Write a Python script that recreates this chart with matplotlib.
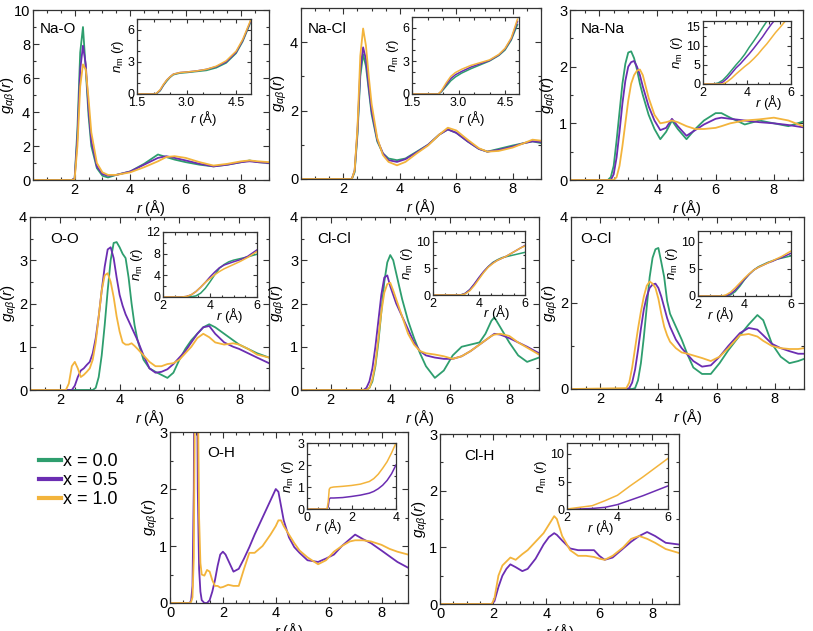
import matplotlib
matplotlib.use("Agg")
import matplotlib.pyplot as plt
from matplotlib.ticker import MultipleLocator
from matplotlib.lines import Line2D

plt.rcParams['font.family'] = ['Liberation Sans', 'DejaVu Sans']
plt.rcParams['mathtext.fontset'] = 'custom'
plt.rcParams['mathtext.rm'] = 'Liberation Sans'
plt.rcParams['mathtext.it'] = 'Liberation Sans:italic'
plt.rcParams['mathtext.bf'] = 'Liberation Sans:bold'

GREEN = '#2e9e6e'
PURPLE = '#6b2db2'
ORANGE = '#f3b43c'
series_labels = ['x = 0.0', 'x = 0.5', 'x = 1.0']

# ---------------- Na-O ----------------
naO_r = [0.5, 1.9, 2.0, 2.1, 2.2, 2.3, 2.4, 2.5, 2.6, 2.8, 3.0, 3.2, 3.5, 4.0, 4.5, 5.0, 5.3, 5.6, 6.0, 6.5, 7.0, 7.5, 8.0, 8.3, 8.6, 9.0]
naO_g0 = [0, 0, 0.1, 3.0, 7.5, 9.0, 6.5, 3.8, 2.0, 0.7, 0.25, 0.15, 0.3, 0.5, 0.95, 1.5, 1.35, 1.2, 1.05, 0.9, 0.8, 0.9, 1.05, 1.15, 1.05, 1.0]
naO_g5 = [0, 0, 0.1, 2.5, 6.5, 7.9, 6.8, 4.2, 2.3, 0.8, 0.35, 0.25, 0.3, 0.5, 0.9, 1.3, 1.4, 1.3, 1.15, 0.95, 0.8, 0.9, 1.05, 1.1, 1.05, 1.0]
naO_g10 = [0, 0, 0.05, 2.0, 5.5, 6.8, 6.5, 4.8, 2.8, 1.0, 0.45, 0.3, 0.3, 0.45, 0.75, 1.1, 1.35, 1.4, 1.3, 1.05, 0.85, 0.95, 1.1, 1.15, 1.1, 1.05]
naO_in_r = [1.5, 2.05, 2.1, 2.2, 2.3, 2.4, 2.5, 2.6, 2.8, 3.0, 3.3, 3.6, 3.9, 4.2, 4.5, 4.7, 4.9, 5.0]
naO_n0 = [0, 0, 0.05, 0.3, 0.8, 1.2, 1.55, 1.8, 1.95, 2.0, 2.1, 2.2, 2.45, 2.9, 3.8, 4.9, 6.4, 7.2]
naO_n5 = [0, 0, 0.08, 0.35, 0.85, 1.3, 1.6, 1.85, 2.0, 2.05, 2.15, 2.3, 2.55, 3.0, 3.9, 5.0, 6.5, 7.3]
naO_n10 = [0, 0, 0.1, 0.4, 0.9, 1.3, 1.6, 1.85, 2.0, 2.05, 2.15, 2.3, 2.6, 3.1, 4.0, 5.1, 6.6, 7.4]

# ---------------- Na-Cl ----------------
naCl_r = [0.5, 2.3, 2.4, 2.5, 2.6, 2.7, 2.8, 2.9, 3.0, 3.2, 3.4, 3.6, 3.9, 4.2, 4.6, 5.0, 5.4, 5.7, 6.0, 6.4, 6.8, 7.1, 7.5, 8.0, 8.4, 8.7, 9.0]
naCl_g0 = [0, 0, 0.2, 1.3, 3.0, 3.65, 3.3, 2.6, 1.9, 1.1, 0.75, 0.6, 0.55, 0.6, 0.8, 1.0, 1.3, 1.45, 1.35, 1.1, 0.88, 0.8, 0.88, 0.98, 1.05, 1.1, 1.05]
naCl_g5 = [0, 0, 0.25, 1.4, 3.2, 3.85, 3.5, 2.7, 2.0, 1.15, 0.75, 0.55, 0.5, 0.58, 0.78, 1.0, 1.3, 1.45, 1.35, 1.1, 0.88, 0.8, 0.85, 0.95, 1.05, 1.1, 1.08]
naCl_g10 = [0, 0, 0.25, 1.5, 3.6, 4.4, 3.9, 3.0, 2.2, 1.2, 0.7, 0.5, 0.4, 0.5, 0.75, 0.98, 1.3, 1.5, 1.42, 1.15, 0.9, 0.8, 0.82, 0.92, 1.05, 1.15, 1.12]
naCl_in_r = [1.5, 2.35, 2.45, 2.6, 2.75, 2.9, 3.1, 3.4, 3.7, 4.0, 4.3, 4.5, 4.7, 4.9]
naCl_n0 = [0, 0, 0.2, 0.7, 1.2, 1.55, 1.9, 2.3, 2.65, 3.0, 3.5, 4.0, 4.9, 6.3]
naCl_n5 = [0, 0, 0.25, 0.85, 1.4, 1.75, 2.05, 2.45, 2.75, 3.05, 3.55, 4.1, 5.0, 6.6]
naCl_n10 = [0, 0, 0.3, 1.0, 1.6, 1.95, 2.25, 2.6, 2.85, 3.1, 3.6, 4.15, 5.1, 6.8]

# ---------------- Na-Na ----------------
naNa_r = [1.0, 2.3, 2.4, 2.5, 2.6, 2.7, 2.8, 2.9, 3.0, 3.1, 3.2, 3.3, 3.4, 3.5, 3.7, 3.9, 4.1, 4.3, 4.5, 4.7, 5.0, 5.3, 5.6, 6.0, 6.2, 6.5, 7.0, 7.5, 8.0, 8.5, 9.0]
naNa_g0 = [0, 0, 0.05, 0.25, 0.7, 1.2, 1.7, 2.05, 2.25, 2.27, 2.15, 1.95, 1.7, 1.5, 1.15, 0.9, 0.72, 0.85, 1.05, 0.9, 0.72, 0.9, 1.05, 1.18, 1.18, 1.1, 0.98, 1.05, 1.0, 0.95, 1.03]
naNa_g5 = [0, 0, 0.0, 0.1, 0.4, 0.85, 1.35, 1.75, 2.0, 2.08, 2.1, 2.0, 1.85, 1.65, 1.3, 1.05, 0.88, 0.92, 1.08, 0.95, 0.78, 0.88, 0.98, 1.08, 1.1, 1.08, 1.05, 1.02, 1.0, 0.97, 0.93]
naNa_g10 = [0, 0, 0, 0, 0.05, 0.25, 0.6, 1.0, 1.4, 1.7, 1.85, 1.93, 1.95, 1.85, 1.45, 1.15, 1.0, 1.02, 1.05, 1.02, 0.95, 0.9, 0.9, 0.92, 0.95, 1.0, 1.05, 1.07, 1.1, 1.05, 0.95]
naNa_in_r = [2.0, 2.5, 2.7, 2.9, 3.1, 3.3, 3.5, 3.7, 3.9, 4.1, 4.3, 4.5, 4.7, 4.9, 5.1, 5.3, 5.5, 5.7, 5.9, 6.0]
naNa_n0 = [0, 0, 0.3, 1.0, 2.2, 3.6, 5.0, 6.3, 7.8, 9.6, 11.2, 12.9, 14.7, 16.4, 18.0, 19.5, 21.0, 22.5, 24.0, 24.7]
naNa_n5 = [0, 0, 0.05, 0.5, 1.5, 2.8, 4.2, 5.3, 6.6, 7.9, 9.3, 10.8, 12.3, 14.0, 15.6, 17.0, 18.5, 20.0, 21.5, 22.0]
naNa_n10 = [0, 0, 0, 0, 0.6, 1.5, 2.6, 3.6, 4.6, 5.5, 6.6, 7.8, 9.2, 10.5, 12.0, 13.5, 14.8, 16.2, 17.6, 18.3]

# ---------------- O-O ----------------
oo_r = [1.0, 2.2, 2.3, 2.4, 2.5, 2.6, 2.7, 2.8, 2.9, 3.0, 3.1, 3.2, 3.3, 3.4, 3.5, 3.6, 3.7, 3.8, 3.9, 4.0, 4.1, 4.2, 4.3, 4.4, 4.5, 4.6, 4.8, 5.0, 5.2, 5.4, 5.6, 5.8, 6.0, 6.2, 6.4, 6.6, 6.8, 7.0, 7.2, 7.5, 7.8, 8.0, 8.3, 8.6, 9.0]
oo_g0 = [0, 0, 0, 0, 0, 0, 0, 0, 0, 0, 0, 0.05, 0.3, 0.8, 1.5, 2.3, 3.0, 3.4, 3.42, 3.3, 3.15, 3.05, 2.6, 2.0, 1.5, 1.15, 0.7, 0.5, 0.42, 0.35, 0.28, 0.4, 0.7, 0.95, 1.15, 1.3, 1.45, 1.52, 1.45, 1.3, 1.15, 1.05, 0.95, 0.85, 0.75]
oo_g5 = [0, 0, 0, 0, 0.1, 0.3, 0.45, 0.5, 0.58, 0.65, 0.85, 1.2, 1.7, 2.3, 2.85, 3.25, 3.3, 3.05, 2.6, 2.2, 1.95, 1.75, 1.6, 1.45, 1.3, 1.15, 0.8, 0.5, 0.4, 0.42, 0.48, 0.6, 0.75, 0.9, 1.1, 1.3, 1.45, 1.48, 1.3, 1.1, 1.0, 0.95, 0.85, 0.75, 0.62]
oo_g10 = [0, 0, 0.15, 0.55, 0.65, 0.5, 0.3, 0.35, 0.42, 0.5, 0.7, 1.1, 1.7, 2.3, 2.65, 2.7, 2.5, 2.15, 1.7, 1.35, 1.1, 1.05, 1.05, 1.08, 1.02, 0.95, 0.8, 0.65, 0.55, 0.55, 0.6, 0.62, 0.7, 0.85, 1.0, 1.2, 1.3, 1.22, 1.1, 1.05, 1.08, 1.05, 0.95, 0.82, 0.75]
oo_in_r = [2.0, 2.8, 3.0, 3.2, 3.4, 3.6, 3.8, 4.0, 4.2, 4.4, 4.6, 4.8, 5.0, 5.3, 5.6, 6.0]
oo_n0 = [0, 0, 0, 0.05, 0.2, 0.7, 1.6, 2.8, 4.1, 5.3, 6.0, 6.5, 6.8, 7.1, 7.4, 7.9]
oo_n5 = [0, 0, 0.1, 0.4, 1.0, 1.8, 2.7, 3.7, 4.6, 5.4, 5.9, 6.2, 6.5, 6.9, 7.5, 8.7]
oo_n10 = [0, 0, 0.1, 0.4, 1.0, 1.8, 2.7, 3.4, 4.1, 4.7, 5.2, 5.6, 6.0, 6.6, 7.3, 8.4]

# ---------------- Cl-Cl ----------------
clcl_r = [1.0, 3.1, 3.2, 3.3, 3.4, 3.5, 3.6, 3.7, 3.8, 3.9, 4.0, 4.1, 4.2, 4.3, 4.4, 4.6, 4.8, 5.0, 5.2, 5.5, 5.8, 6.1, 6.4, 6.7, 7.0, 7.2, 7.4, 7.5, 7.7, 8.0, 8.3, 8.6, 9.0]
clcl_g0 = [0, 0, 0, 0.05, 0.2, 0.55, 1.1, 1.8, 2.5, 2.95, 3.12, 3.0, 2.7, 2.4, 2.1, 1.6, 1.2, 0.85, 0.55, 0.28, 0.45, 0.8, 1.0, 1.05, 1.1, 1.3, 1.6, 1.68, 1.45, 1.1, 0.8, 0.65, 0.75]
clcl_g5 = [0, 0, 0.05, 0.2, 0.5, 1.0, 1.6, 2.2, 2.6, 2.65, 2.4, 2.2, 2.0, 1.85, 1.7, 1.4, 1.1, 0.9, 0.8, 0.75, 0.72, 0.72, 0.78, 0.9, 1.05, 1.15, 1.25, 1.3, 1.28, 1.2, 1.1, 1.0, 0.85]
clcl_g10 = [0, 0, 0, 0.05, 0.25, 0.6, 1.2, 1.8, 2.25, 2.45, 2.48, 2.3, 2.1, 1.9, 1.7, 1.3, 1.05, 0.9, 0.85, 0.82, 0.78, 0.72, 0.78, 0.9, 1.05, 1.15, 1.25, 1.28, 1.3, 1.25, 1.1, 0.98, 0.82]
clcl_in_r = [2.0, 3.2, 3.4, 3.6, 3.8, 4.0, 4.2, 4.4, 4.6, 4.8, 5.0, 5.2, 5.4, 5.6, 5.8, 6.0]
clcl_n0 = [0, 0, 0.3, 1.0, 2.0, 3.2, 4.3, 5.3, 6.1, 6.6, 7.0, 7.2, 7.4, 7.6, 7.8, 8.0]
clcl_n5 = [0, 0, 0.3, 1.0, 2.1, 3.3, 4.4, 5.3, 6.0, 6.5, 6.9, 7.3, 7.8, 8.3, 8.8, 9.3]
clcl_n10 = [0, 0, 0.2, 0.8, 1.8, 3.0, 4.2, 5.2, 5.9, 6.5, 6.9, 7.3, 7.8, 8.3, 8.8, 9.2]

# ---------------- O-Cl ----------------
ocl_r = [1.0, 2.9, 3.0, 3.1, 3.2, 3.3, 3.4, 3.5, 3.6, 3.7, 3.8, 3.9, 4.0, 4.1, 4.2, 4.3, 4.4, 4.6, 4.8, 5.0, 5.2, 5.5, 5.8, 6.1, 6.4, 6.8, 7.1, 7.4, 7.6, 7.9, 8.2, 8.5, 8.8, 9.0]
ocl_g0 = [0, 0, 0, 0, 0.02, 0.2, 0.6, 1.2, 1.9, 2.6, 3.05, 3.25, 3.28, 2.95, 2.6, 2.05, 1.75, 1.45, 1.15, 0.8, 0.5, 0.35, 0.35, 0.6, 0.9, 1.25, 1.5, 1.72, 1.6, 1.05, 0.75, 0.6, 0.65, 0.7]
ocl_g5 = [0, 0, 0.02, 0.15, 0.45, 0.9, 1.4, 1.85, 2.15, 2.35, 2.43, 2.45, 2.35, 2.15, 1.9, 1.65, 1.45, 1.15, 0.95, 0.8, 0.65, 0.52, 0.55, 0.75, 1.0, 1.3, 1.42, 1.38, 1.25, 1.05, 0.95, 0.88, 0.82, 0.82]
ocl_g10 = [0, 0.02, 0.15, 0.5, 0.95, 1.4, 1.8, 2.15, 2.4, 2.5, 2.45, 2.35, 2.1, 1.75, 1.45, 1.25, 1.1, 0.95, 0.85, 0.82, 0.78, 0.72, 0.65, 0.75, 0.95, 1.25, 1.28, 1.22, 1.12, 1.0, 0.95, 0.93, 0.93, 0.95]
ocl_in_r = [2.0, 3.0, 3.2, 3.4, 3.6, 3.8, 4.0, 4.2, 4.4, 4.6, 4.8, 5.0, 5.2, 5.4, 5.6, 5.8, 6.0]
ocl_n0 = [0, 0, 0, 0.2, 0.8, 1.8, 3.0, 4.0, 4.8, 5.4, 5.8, 6.2, 6.5, 6.8, 7.0, 7.2, 7.4]
ocl_n5 = [0, 0, 0.05, 0.4, 1.1, 2.1, 3.1, 4.0, 4.8, 5.3, 5.7, 6.1, 6.4, 6.8, 7.1, 7.5, 7.9]
ocl_n10 = [0, 0, 0.2, 0.7, 1.5, 2.4, 3.3, 4.1, 4.8, 5.3, 5.7, 6.1, 6.5, 6.9, 7.3, 7.8, 8.3]

# ---------------- O-H (no x = 0.0) ----------------
oh_r = [0, 0.75, 0.8, 0.85, 0.9, 0.95, 1.0, 1.05, 1.1, 1.15, 1.2, 1.3, 1.4, 1.5, 1.6, 1.7, 1.8, 1.9, 2.0, 2.1, 2.2, 2.4, 2.6, 2.8, 3.0, 3.2, 3.5, 3.8, 4.0, 4.1, 4.2, 4.3, 4.5, 4.7, 4.9, 5.2, 5.6, 5.9, 6.2, 6.5, 6.8, 7.0, 7.3, 7.6, 8.0, 8.3, 8.6, 9.0]
oh_g5 = [0, 0, 0.05, 0.3, 2.0, 8.0, 6.0, 2.0, 0.6, 0.2, 0.05, 0.0, 0.0, 0.05, 0.2, 0.4, 0.65, 0.85, 0.9, 0.85, 0.75, 0.55, 0.6, 0.78, 0.98, 1.2, 1.5, 1.8, 2.0, 1.95, 1.7, 1.45, 1.15, 0.98, 0.88, 0.75, 0.72, 0.78, 0.85, 1.0, 1.12, 1.2, 1.12, 1.05, 0.92, 0.82, 0.72, 0.62]
oh_g10 = [0, 0, 0.02, 0.1, 0.8, 4.0, 8.0, 4.0, 1.5, 0.7, 0.5, 0.48, 0.58, 0.55, 0.4, 0.3, 0.3, 0.27, 0.28, 0.3, 0.32, 0.3, 0.3, 0.6, 0.88, 0.88, 1.0, 1.2, 1.35, 1.45, 1.45, 1.35, 1.2, 1.05, 0.92, 0.8, 0.68, 0.75, 0.9, 1.0, 1.08, 1.1, 1.1, 1.08, 1.02, 0.95, 0.9, 0.85]
oh_in_r = [0, 0.9, 0.95, 1.0, 1.05, 1.2, 1.6, 2.0, 2.4, 2.8, 3.0, 3.2, 3.4, 3.6, 3.8, 4.0]
oh_n5 = [0, 0, 0.1, 0.45, 0.5, 0.5, 0.52, 0.57, 0.63, 0.72, 0.8, 0.92, 1.08, 1.3, 1.6, 2.0]
oh_n10 = [0, 0, 0.3, 0.9, 0.97, 1.0, 1.03, 1.07, 1.13, 1.25, 1.38, 1.58, 1.85, 2.15, 2.55, 3.0]

# ---------------- Cl-H (no x = 0.0) ----------------
clh_r = [0, 1.95, 2.05, 2.2, 2.35, 2.5, 2.65, 2.85, 3.1, 3.3, 3.6, 3.9, 4.1, 4.3, 4.4, 4.6, 4.9, 5.2, 5.5, 5.8, 6.0, 6.2, 6.5, 6.9, 7.2, 7.5, 7.8, 8.1, 8.5, 9.0]
clh_g5 = [0, 0, 0.05, 0.3, 0.5, 0.62, 0.7, 0.65, 0.58, 0.62, 0.8, 1.05, 1.18, 1.25, 1.22, 1.12, 0.98, 0.95, 0.95, 0.95, 0.85, 0.78, 0.82, 0.98, 1.1, 1.2, 1.27, 1.2, 1.08, 1.05]
clh_g10 = [0, 0, 0.1, 0.5, 0.68, 0.75, 0.82, 0.78, 0.88, 0.95, 1.1, 1.25, 1.4, 1.55, 1.5, 1.2, 0.95, 0.85, 0.85, 0.83, 0.8, 0.78, 0.85, 1.0, 1.15, 1.2, 1.15, 1.08, 0.97, 0.9]
clh_in_r = [2.0, 2.5, 3.0, 3.5, 4.0, 4.5, 5.0, 5.5, 6.0]
clh_n5 = [0, 0, 0.1, 0.3, 0.8, 1.6, 2.4, 3.3, 4.2]
clh_n10 = [0, 0.3, 0.6, 1.5, 2.5, 4.2, 5.8, 7.5, 9.2]

W, H = 813, 631
fig = plt.figure(figsize=(W / 100, H / 100), dpi=100)


def box(l, t, r, b):
    # pixel box -> figure fraction
    return [l / W, 1 - b / H, (r - l) / W, (b - t) / H]


def style(ax, fs, xmaj, ymaj, xmin, ymin, major_len=4, minor_len=2.2):
    ax.xaxis.set_major_locator(MultipleLocator(xmaj))
    ax.yaxis.set_major_locator(MultipleLocator(ymaj))
    ax.xaxis.set_minor_locator(MultipleLocator(xmin))
    ax.yaxis.set_minor_locator(MultipleLocator(ymin))
    ax.tick_params(which='both', direction='in', top=True, right=True,
                   width=0.8, colors='#333333', labelcolor='black', labelsize=fs, pad=2)
    ax.tick_params(which='major', length=major_len)
    ax.tick_params(which='minor', length=minor_len)
    for s in ax.spines.values():
        s.set_color('#333333')
        s.set_linewidth(0.9)


def panel(pos, r, gs, cols, xlim, ylim, ymaj, ymin, name, name_xy, ylab_x,
          ipos, ir, ns, ixlim, iylim, ixmaj, iymaj, ixmin, iymin, ixlab_xy, ixfmt=None):
    ax = fig.add_axes(box(*pos))
    for g, c in zip(gs, cols):
        ax.plot(r, g, color=c, lw=1.3)
    ax.set_xlim(*xlim)
    ax.set_ylim(*ylim)
    style(ax, 10.5, 2, ymaj, 0.5, ymin)
    ax.set_ylabel(r'$g_{\alpha\beta}(r)$', fontsize=11)
    ax.yaxis.set_label_coords(ylab_x, 0.5)
    ax.set_xlabel(r'$r$ (Å)', fontsize=10.5, labelpad=1)
    ax.text(name_xy[0], name_xy[1], name, transform=ax.transAxes, fontsize=11, va='center')

    ins = fig.add_axes(box(*ipos))
    for n, c in zip(ns, cols):
        ins.plot(ir, n, color=c, lw=1.1)
    ins.set_xlim(*ixlim)
    ins.set_ylim(*iylim)
    style(ins, 9, ixmaj, iymaj, ixmin, iymin, major_len=3, minor_len=1.8)
    if ixfmt:
        ins.xaxis.set_major_formatter(ixfmt)
    ins.set_ylabel(r'$n_{\mathrm{m}}$ ($r$)', fontsize=9.5, labelpad=1)
    ins.set_xlabel(r'$r$ (Å)', fontsize=9.5)
    ins.xaxis.set_label_coords(*ixlab_xy)
    return ax, ins


three = [GREEN, PURPLE, ORANGE]
two = [PURPLE, ORANGE]

panel((33, 10, 269, 180), naO_r, [naO_g0, naO_g5, naO_g10], three, (0.5, 9), (0, 10), 2, 1,
      'Na-O', (0.03, 0.89), -0.064,
      (137, 19, 251, 94), naO_in_r, [naO_n0, naO_n5, naO_n10], (1.5, 4.95), (0, 7), 1.5, 3, 0.5, 1,
      (0.58, -0.2), '{x:.1f}')
panel((301, 8, 541, 179), naCl_r, [naCl_g0, naCl_g5, naCl_g10], three, (0.5, 9), (0, 5), 2, 1,
      'Na-Cl', (0.03, 0.88), -0.05,
      (412, 17, 519, 94), naCl_in_r, [naCl_n0, naCl_n5, naCl_n10], (1.5, 4.95), (0, 7), 1.5, 3, 0.5, 1,
      (0.56, -0.2), '{x:.1f}')
panel((570, 10, 803, 180), naNa_r, [naNa_g0, naNa_g5, naNa_g10], three, (1, 9), (0, 3), 1, 0.5,
      'Na-Na', (0.045, 0.89), -0.05,
      (703, 21, 791, 84), naNa_in_r, [naNa_n0, naNa_n5, naNa_n10], (2, 6), (0, 16.5), 2, 5, 0.5, 2.5,
      (0.74, -0.15))
panel((30, 217, 269, 390), oo_r, [oo_g0, oo_g5, oo_g10], three, (1, 9), (0, 4), 1, 0.5,
      'O-O', (0.085, 0.87), -0.044,
      (163, 232, 257, 297), oo_in_r, [oo_n0, oo_n5, oo_n10], (2, 6), (0, 12), 2, 4, 0.5, 2,
      (0.71, -0.14))
panel((301, 217, 539, 390), clcl_r, [clcl_g0, clcl_g5, clcl_g10], three, (1, 9), (0, 4), 1, 0.5,
      'Cl-Cl', (0.07, 0.87), -0.058,
      (433, 231, 525, 295), clcl_in_r, [clcl_n0, clcl_n5, clcl_n10], (2, 6), (0, 12), 2, 5, 0.5, 2.5,
      (0.69, -0.13))
panel((571, 217, 804, 389), ocl_r, [ocl_g0, ocl_g5, ocl_g10], three, (1, 9), (0, 4), 2, 1,
      'O-Cl', (0.04, 0.87), -0.047,
      (698, 231, 791, 296), ocl_in_r, [ocl_n0, ocl_n5, ocl_n10], (2, 6), (0, 12), 2, 5, 0.5, 2.5,
      (0.24, -0.14))
panel((170, 432, 408, 603), oh_r, [oh_g5, oh_g10], two, (0, 9), (0, 3), 1, 0.5,
      'O-H', (0.155, 0.88), -0.042,
      (307, 443, 396, 509), oh_in_r, [oh_n5, oh_n10], (0, 4), (0, 3), 2, 1, 0.5, 0.5,
      (0.24, -0.12))
panel((440, 434, 679, 604), clh_r, [clh_g5, clh_g10], two, (0, 9), (0, 3), 1, 0.5,
      'Cl-H', (0.1, 0.87), -0.042,
      (567, 443, 668, 509), clh_in_r, [clh_n5, clh_n10], (2, 6), (0, 12), 2, 5, 0.5, 2.5,
      (0.33, -0.14))

handles = [Line2D([], [], color=c, lw=3) for c in three]
fig.legend(handles, series_labels, loc='upper left', bbox_to_anchor=(39 / W, 1 - 453 / H),
           frameon=False, fontsize=13, handlelength=1.2, handletextpad=0.15,
           labelspacing=0.12, borderpad=0, borderaxespad=0)

fig.savefig('out.png', dpi=100)
